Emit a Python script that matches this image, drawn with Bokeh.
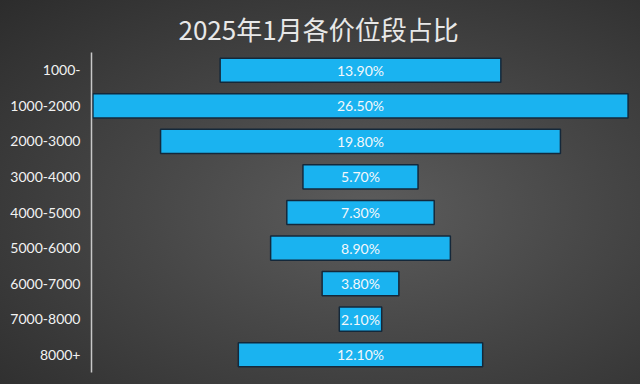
from bokeh.plotting import figure
from bokeh.models import ColumnDataSource, FactorRange, Range1d, Title, InlineStyleSheet, GlobalInlineStyleSheet
from bokeh.core.properties import value
from bokeh.embed import file_html
from bokeh.resources import INLINE

categories = ["1000-", "1000-2000", "2000-3000", "3000-4000", "4000-5000",
              "5000-6000", "6000-7000", "7000-8000", "8000+"]
shares = [13.9, 26.5, 19.8, 5.7, 7.3, 8.9, 3.8, 2.1, 12.1]
share_labels = ["13.90%", "26.50%", "19.80%", "5.70%", "7.30%", "8.90%", "3.80%", "2.10%", "12.10%"]
title_text = "2025年1月各价位段占比"

src = ColumnDataSource(dict(
    cat=categories,
    left=[-v / 2 for v in shares],
    right=[v / 2 for v in shares],
    mid=[0.0] * len(shares),
    lab=share_labels,
))

p = figure(width=640, height=384, output_backend="svg", toolbar_location=None,
           y_range=FactorRange(*reversed(categories), range_padding=0),
           x_range=Range1d(-13.32, 13.32),
           min_border_left=91, min_border_right=11, min_border_top=52, min_border_bottom=12)

p.stylesheets = [
    InlineStyleSheet(css=":host{background: radial-gradient(ellipse at 58% 55%, #5c5c5c 0%, #464646 45%, #2c2c2c 100%);}"),
    GlobalInlineStyleSheet(css="body{background:#2a2a2a;}"),
]
p.background_fill_alpha = 0
p.border_fill_alpha = 0
p.outline_line_color = None
p.grid.visible = False

p.hbar(y="cat", left="left", right="right", height=0.68, source=src,
       fill_color="#1ab3f0", line_color="#14283a", line_width=1.5)

p.text(x="mid", y="cat", text="lab", source=src, text_align="center", text_baseline="middle",
       text_color="#f4f8fb", text_font_size="14px", text_font=value("Lato"))

p.xaxis.visible = False
ax = p.yaxis[0]
ax.axis_line_color = "#c8c8c8"
ax.axis_line_width = 1.5
ax.major_tick_line_color = None
ax.minor_tick_line_color = None
ax.major_label_standoff = 5
ax.major_label_text_color = "#f2f2f2"
ax.major_label_text_font = "Lato"
ax.major_label_text_font_size = "14px"

p.add_layout(Title(text=title_text, align="left", offset=87, standoff=11,
                   text_color="#e8e8e8", text_font="Noto Sans CJK SC",
                   text_font_size="26px", text_font_style="normal"), "above")

open("out.html", "w").write(file_html(p, INLINE))
